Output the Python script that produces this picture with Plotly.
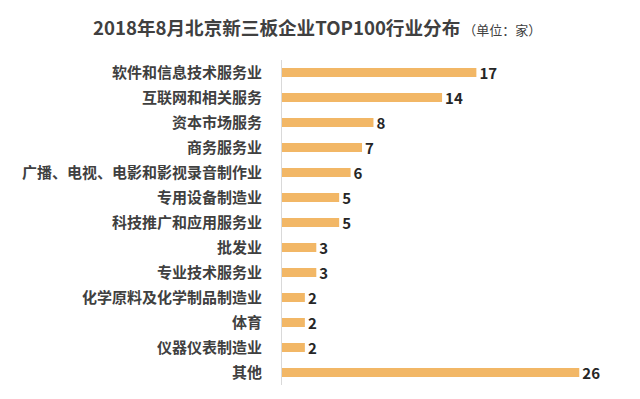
import plotly.graph_objects as go

categories = ["软件和信息技术服务业", "互联网和相关服务", "资本市场服务", "商务服务业",
              "广播、电视、电影和影视录音制作业", "专用设备制造业", "科技推广和应用服务业",
              "批发业", "专业技术服务业", "化学原料及化学制品制造业", "体育", "仪器仪表制造业", "其他"]
values = [17, 14, 8, 7, 6, 5, 5, 3, 3, 2, 2, 2, 26]
title_main = "2018年8月北京新三板企业TOP100行业分布"
title_unit = "（单位：家）"

FONT = "Noto Sans CJK SC"
OFF = 8  # default page body margin
W, H = 640 - 2 * OFF, 399 - 2 * OFF
L, T = 282 - OFF, 60 - OFF
PW, PH = 342.6, 325
R, B = W - L - PW, H - T - PH

fig = go.Figure(go.Bar(
    x=values, y=categories, orientation="h",
    marker=dict(color="#F2B766", line=dict(width=0)),
    width=0.36,
    text=values, textposition="outside", cliponaxis=False, constraintext="none",
    textfont=dict(family=FONT, size=15, color="#262626", weight="bold"),
))

fig.update_layout(
    width=W, height=H,
    margin=dict(l=L, r=R, t=T, b=B, pad=0, autoexpand=False),
    paper_bgcolor="white", plot_bgcolor="white",
    showlegend=False,
    annotations=[dict(
        text=f"<b>{title_main}</b><span style='font-size:13px'> {title_unit}</span>",
        x=(91 - 282) / PW, xref="paper", xanchor="left",
        y=1 + (60 - 27) / PH, yref="paper", yanchor="middle", showarrow=False,
        font=dict(family=FONT, size=18.6, color="#404040"),
    )],
)

fig.update_xaxes(range=[0, 30], showgrid=False, showticklabels=False, zeroline=False,
                 showline=False, automargin=False)
fig.update_yaxes(autorange="reversed", showgrid=False, showline=True, linecolor="#D9D9D9", linewidth=1,
                 ticks="", ticklabelstandoff=16, automargin=False,
                 tickfont=dict(family=FONT, size=15, color="#404040", weight="bold"))

fig.write_html("out.html")
